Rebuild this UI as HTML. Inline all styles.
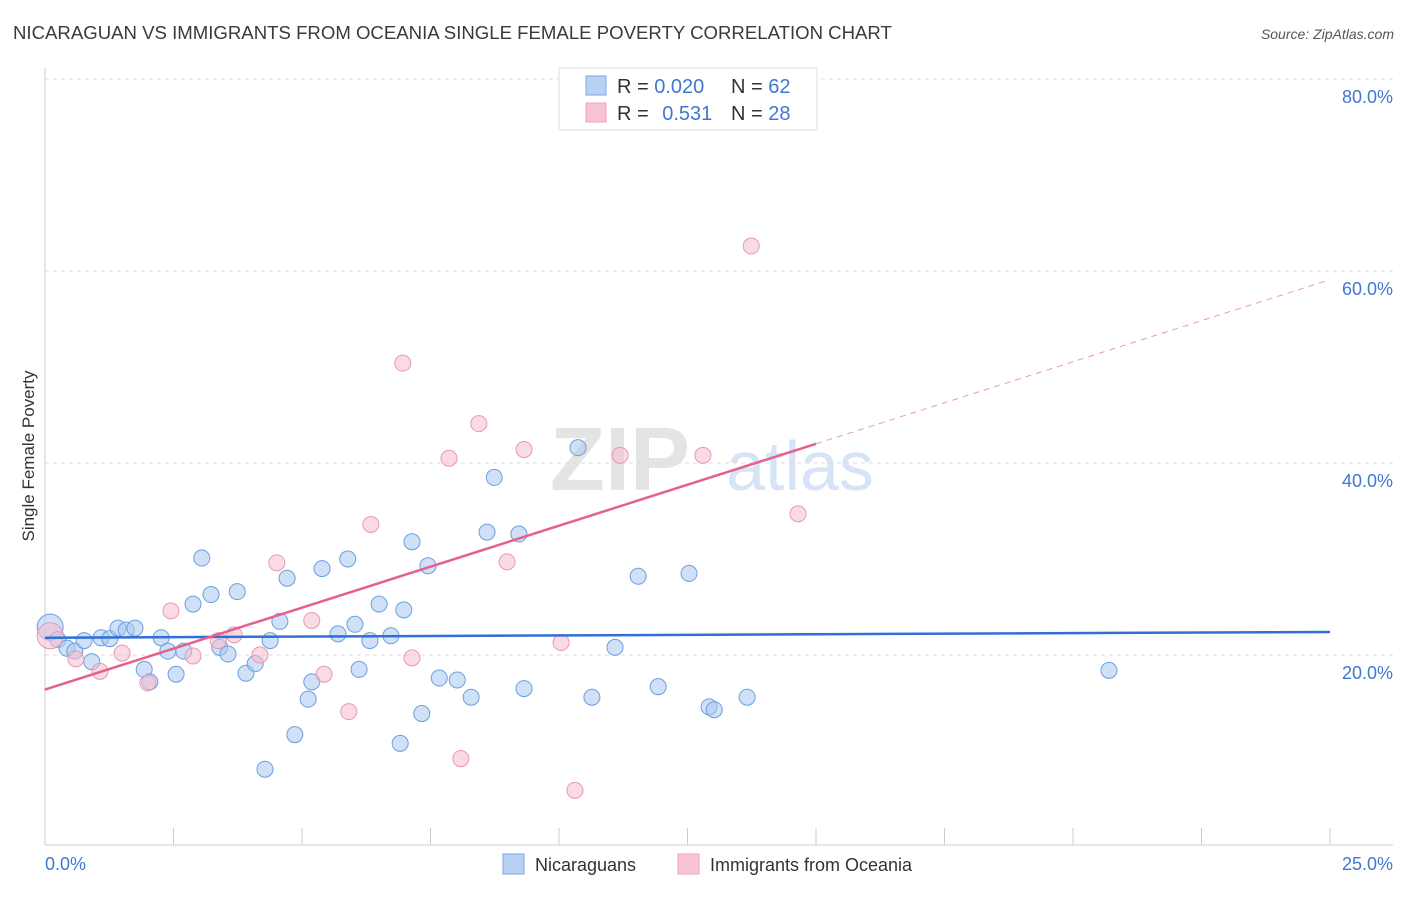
<!DOCTYPE html>
<html><head><meta charset="utf-8"><style>
body{margin:0;background:#fff;font-family:"Liberation Sans",sans-serif}
svg text{font-family:"Liberation Sans",sans-serif}
</style></head><body>
<svg id="c" width="1406" height="892">
<text x="13" y="39" font-size="18.6" fill="#3a3a3a">NICARAGUAN VS IMMIGRANTS FROM OCEANIA SINGLE FEMALE POVERTY CORRELATION CHART</text>
<text x="1394" y="39" font-size="14" fill="#555" font-style="italic" text-anchor="end">Source: ZipAtlas.com</text>
<text x="0" y="0" transform="translate(34,456) rotate(-90)" font-size="17" fill="#333" text-anchor="middle">Single Female Poverty</text>
<text x="620" y="490" font-size="90" fill="#e4e4e4" font-family="Liberation Serif" text-anchor="middle" font-weight="bold">ZIP</text>
<text x="800" y="490" font-size="70" fill="#d6e4f5" text-anchor="middle">atlas</text>
<g id="grid"></g><g id="marks"></g>
<g>
<rect x="559" y="68" width="258" height="62" fill="#fff" stroke="#ddd"/>
<rect x="586" y="76" width="20" height="19" fill="#b7d0f4" stroke="#7da7e3"/>
<rect x="586" y="103" width="20" height="19" fill="#f8c4d3" stroke="#eba4ba"/>
<text x="617" y="93" font-size="20" fill="#333">R = <tspan fill="#3f78d4">0.020</tspan></text>
<text x="731" y="93" font-size="20" fill="#333">N = <tspan fill="#3f78d4">62</tspan></text>
<text x="617" y="120" font-size="20" fill="#333">R = <tspan fill="#3f78d4" dx="8">0.531</tspan></text>
<text x="731" y="120" font-size="20" fill="#333">N = <tspan fill="#3f78d4">28</tspan></text>
</g>
<g>
<rect x="503" y="854" width="21" height="20" fill="#b7d0f4" stroke="#7da7e3"/>
<text x="535" y="871" font-size="18" fill="#333">Nicaraguans</text>
<rect x="678" y="854" width="21" height="20" fill="#f8c4d3" stroke="#eba4ba"/>
<text x="710" y="871" font-size="18" fill="#333">Immigrants from Oceania</text>
</g>
</svg>
<script>
const blueX=[0.10,0.25,0.43,0.58,0.76,0.91,1.09,1.26,1.42,1.58,1.75,1.93,2.04,2.26,2.39,2.55,2.70,2.88,3.05,3.23,3.40,3.56,3.74,3.91,4.09,4.28,4.38,4.57,4.71,4.86,5.12,5.19,5.39,5.70,5.89,6.03,6.11,6.32,6.50,6.73,6.91,6.98,7.14,7.33,7.45,7.67,8.02,8.29,8.60,8.74,9.22,9.32,10.37,10.64,11.09,11.54,11.93,12.53,12.92,13.02,13.66,20.70];
const blueY=[22.9,21.6,20.7,20.4,21.5,19.3,21.8,21.7,22.8,22.6,22.8,18.5,17.2,21.8,20.4,18.0,20.4,25.3,30.1,26.3,20.8,20.1,26.6,18.1,19.1,8.1,21.5,23.5,28.0,11.7,15.4,17.2,29.0,22.2,30.0,23.2,18.5,21.5,25.3,22.0,10.8,24.7,31.8,13.9,29.3,17.6,17.4,15.6,32.8,38.5,32.6,16.5,41.6,15.6,20.8,28.2,16.7,28.5,14.6,14.3,15.6,18.4];
const pinkX=[0.10,0.60,1.07,1.50,2.00,2.45,2.88,3.37,3.68,4.18,4.51,5.19,5.43,5.91,6.34,6.96,7.14,7.86,8.09,8.44,8.99,9.32,10.04,10.31,11.19,12.80,13.74,14.65];
const pinkY=[22.0,19.6,18.3,20.2,17.1,24.6,19.9,21.5,22.1,20.0,29.6,23.6,18.0,14.1,33.6,50.4,19.7,40.5,9.2,44.1,29.7,41.4,21.3,5.9,40.8,40.8,62.6,34.7];
const blueLine=[21.8,22.4];
const pinkLine=[16.4,42.0,59.1];
const yTicks=[20,40,60,80];
const xTickLabels=["0.0%","25.0%"];
const NS="http://www.w3.org/2000/svg";
const sx=v=>45+v/25*1285, sy=v=>847-v/20*192;
function mk(t,a,p){const e=document.createElementNS(NS,t);for(const k in a)e.setAttribute(k,a[k]);p.appendChild(e);return e;}
const g=document.getElementById('grid'),m=document.getElementById('marks');
yTicks.forEach(t=>{
 const l=mk('line',{x1:45,x2:1393,y1:sy(t),y2:sy(t),stroke:'#ddd','stroke-dasharray':'4,4'},g);
 
 
 const tx=mk('text',{x:1393,y:sy(t)+24,'font-size':18,fill:'#3f78d4','text-anchor':'end'},g);tx.textContent=t.toFixed(1)+'%';
 
 
});
const ax=mk('line',{x1:45,x2:1393,y1:845,y2:845,stroke:'#ccc'},g);


const ay=mk('line',{x1:45,x2:45,y1:68,y2:845,stroke:'#ccc'},g);


for(let i=0;i<=10;i++){const t=mk('line',{x1:sx(i*2.5),x2:sx(i*2.5),y1:828,y2:845,stroke:'#ccc'},g);
 
 }
[[0,'start',45],[1,'end',1393]].forEach(([i,a,x])=>{const t=mk('text',{x:x,y:870,'font-size':18,fill:'#3f78d4','text-anchor':a},g);t.textContent=xTickLabels[i];
 
 });
function dots(X,Y,f,s,name){X.forEach((x,i)=>{const c=mk('circle',{cx:sx(x),cy:sy(Y[i]),r:i==0?13:8,fill:f,'fill-opacity':0.55,stroke:s,'stroke-width':1},m);
 
 });}
dots(blueX,blueY,'#a9c8f0','#6a9fe0','nicaraguan-point');
dots(pinkX,pinkY,'#f6bccd','#e899b0','oceania-point');
const bl=mk('line',{x1:sx(0),y1:sy(blueLine[0]),x2:sx(25),y2:sy(blueLine[1]),stroke:'#2f6fd6','stroke-width':2.5},m);


const pl=mk('line',{x1:sx(0),y1:sy(pinkLine[0]),x2:sx(15),y2:sy(pinkLine[1]),stroke:'#e5608e','stroke-width':2.5},m);


const pd=mk('line',{x1:sx(15),y1:sy(pinkLine[1]),x2:sx(25),y2:sy(pinkLine[2]),stroke:'#e89ab3','stroke-width':1,'stroke-dasharray':'6,5'},m);


</script>
</body></html>
